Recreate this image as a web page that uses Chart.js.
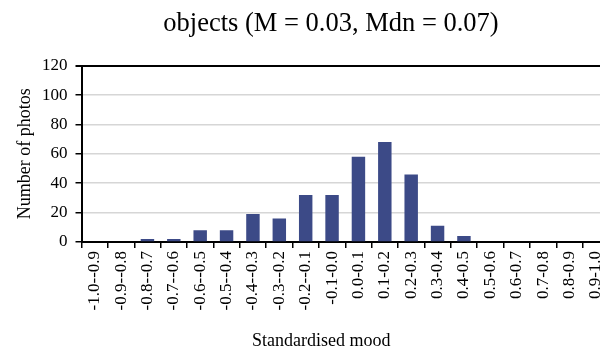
<!DOCTYPE html>
<html>
<head>
<meta charset="utf-8">
<script src="https://cdn.jsdelivr.net/npm/chart.js@4/dist/chart.umd.min.js"></script>
<style>
  html, body { margin: 0; padding: 0; overflow: hidden; background: #fff; }
  #wrap { position: absolute; left: 0; top: 0; width: 662px; height: 356px; }
</style>
</head>
<body>
<div id="wrap"><canvas id="c" width="662" height="356"></canvas></div>
<script>
// Mood bins (standardised mood ranges)
const binLabels = [
  "-1.0--0.9", "-0.9--0.8", "-0.8--0.7", "-0.7--0.6", "-0.6--0.5",
  "-0.5--0.4", "-0.4--0.3", "-0.3--0.2", "-0.2--0.1", "-0.1-0.0",
  "0.0-0.1", "0.1-0.2", "0.2-0.3", "0.3-0.4", "0.4-0.5",
  "0.5-0.6", "0.6-0.7", "0.7-0.8", "0.8-0.9", "0.9-1.0"
];
// Number of photos in each bin
const photoCounts = [0, 0, 2, 2, 8, 8, 19, 16, 32, 32, 58, 68, 46, 11, 4, 0, 0, 0, 0, 0];
// Y axis range
const yTicks = { min: 0, max: 120, step: 20 };

const chartTitle = "objects (M = 0.03, Mdn = 0.07)";
const serif = "'Liberation Serif', 'Times New Roman', serif";

// Horizontal nudge for the x-axis title (px, negative = left)
const xTitleShift = -24;

// Centre the chart title across the whole canvas and nudge the x-axis title
const titlePlacement = {
  id: 'titlePlacement',
  afterLayout(chart) {
    const tb = chart.titleBlock;
    if (tb) { tb.left = 0; tb.right = chart.width; }
    const sx = chart.scales.x;
    if (sx && !sx._shiftedTitle) {
      const orig = sx.drawTitle.bind(sx);
      sx.drawTitle = function () {
        const ctx = chart.ctx;
        ctx.save();
        ctx.translate(xTitleShift, 0);
        orig();
        ctx.restore();
      };
      sx._shiftedTitle = true;
    }
  }
};

new Chart(document.getElementById('c'), {
  type: 'bar',
  data: {
    labels: binLabels,
    datasets: [{
      data: photoCounts,
      backgroundColor: '#3c4a87',
      borderWidth: 0,
      barPercentage: 0.51,
      categoryPercentage: 1.0
    }]
  },
  plugins: [titlePlacement],
  options: {
    responsive: false,
    animation: false,
    layout: { padding: { left: 11, right: 53, top: 0, bottom: 4 } },
    plugins: {
      legend: { display: false },
      tooltip: { enabled: false },
      title: {
        display: true,
        text: chartTitle,
        color: '#000',
        font: { family: serif, size: 26.5, weight: 'normal', lineHeight: 1.2 },
        padding: { top: 8, bottom: 26 }
      }
    },
    scales: {
      x: {
        offset: true,
        grid: {
          offset: true,
          drawOnChartArea: false,
          drawTicks: true,
          tickLength: 6,
          tickColor: '#000',
          lineWidth: 1.5
        },
        border: { display: true, color: '#000', width: 2 },
        ticks: {
          color: '#000',
          font: { family: serif, size: 17 },
          minRotation: 90,
          maxRotation: 90,
          autoSkip: false,
          padding: 3
        },
        title: {
          display: true,
          text: 'Standardised mood',
          color: '#000',
          font: { family: serif, size: 18, lineHeight: 1.2 },
          padding: { top: 17, bottom: 0 }
        }
      },
      y: {
        min: yTicks.min,
        max: yTicks.max,
        grid: {
          color: (ctx) => (ctx.tick && ctx.tick.value === yTicks.max) ? '#000' : '#d6d6d6',
          lineWidth: (ctx) => (ctx.tick && ctx.tick.value === yTicks.max) ? 2 : 1.5,
          drawTicks: true,
          tickLength: 6,
          tickColor: '#000'
        },
        border: { display: true, color: '#000', width: 2 },
        ticks: {
          stepSize: yTicks.step,
          color: '#000',
          font: { family: serif, size: 17 },
          padding: 8
        },
        title: {
          display: true,
          text: 'Number of photos',
          color: '#000',
          font: { family: serif, size: 18, lineHeight: 1.0 },
          padding: { top: 5, bottom: 0 }
        }
      }
    }
  }
});
</script>
</body>
</html>
